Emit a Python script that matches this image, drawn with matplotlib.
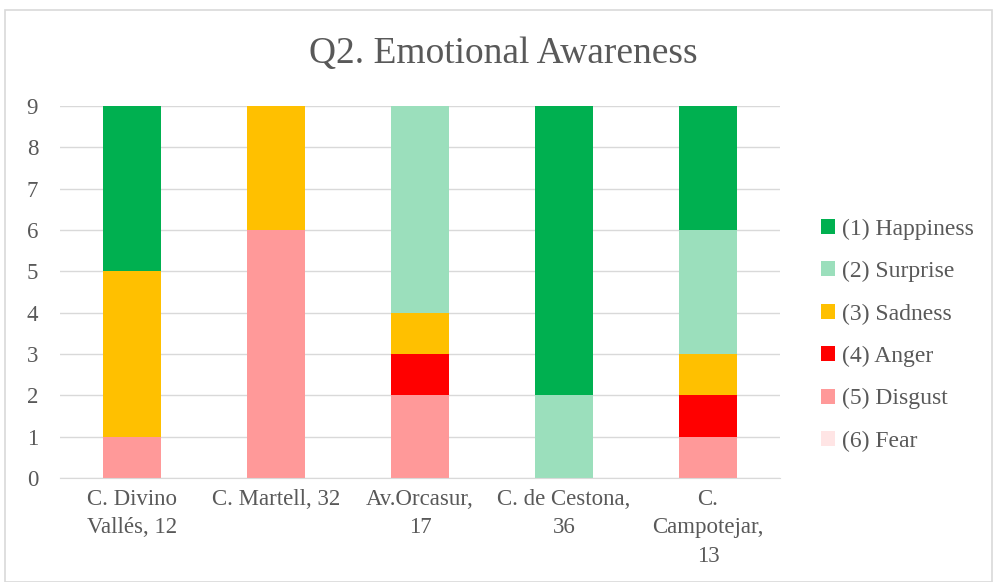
import numpy as np
import matplotlib.pyplot as plt
from matplotlib.patches import Rectangle

plt.rcParams['font.family'] = ['Liberation Serif', 'DejaVu Serif']

# Datos
categorias = ['C. Divino\nVallés, 12', 'C. Martell, 32', 'Av.Orcasur,\n17',
              'C. de Cestona,\n36', 'C.\nCampotejar,\n13']
happiness = [4, 0, 0, 7, 3]
surprise = [0, 0, 5, 2, 3]
sadness = [4, 3, 1, 0, 1]
anger = [0, 0, 1, 0, 1]
disgust = [1, 6, 2, 0, 1]
fear = [0, 0, 0, 0, 0]

series = [
    ('(5) Disgust', disgust, '#FF9999'),
    ('(4) Anger', anger, '#FF0000'),
    ('(3) Sadness', sadness, '#FFC000'),
    ('(2) Surprise', surprise, '#9BDFBC'),
    ('(1) Happiness', happiness, '#00B050'),
    ('(6) Fear', fear, '#FFE5E5'),
]
orden_leyenda = ['(1) Happiness', '(2) Surprise', '(3) Sadness',
                 '(4) Anger', '(5) Disgust', '(6) Fear']

texto = '#595959'

fig = plt.figure(figsize=(9.93, 5.82), dpi=100)
# marco del gráfico
fig.patches.append(Rectangle((0.005, 0.0), 0.994, 0.983, transform=fig.transFigure,
                             fill=False, edgecolor='#D9D9D9', linewidth=1.2))
ax = fig.add_axes([0.0604, 0.1787, 0.725, 0.639])

x = np.arange(len(categorias))
base = np.zeros(len(categorias))
handles = {}
for nombre, valores, color in series:
    b = ax.bar(x, valores, width=0.4, bottom=base, color=color, label=nombre, zorder=2)
    handles[nombre] = b
    base += np.array(valores)

ax.set_xlim(-0.5, len(categorias) - 0.5)
ax.set_ylim(0, 9)
ax.set_yticks(range(10))
ax.yaxis.grid(True, color='#D9D9D9', linewidth=1, zorder=0)
ax.set_axisbelow(True)
for s in ['top', 'right', 'left']:
    ax.spines[s].set_visible(False)
ax.spines['bottom'].set_color('#D9D9D9')
ax.tick_params(axis='both', length=0, colors=texto, labelsize=16.5)
ax.tick_params(axis='x', pad=8)
ax.tick_params(axis='y', pad=24)
ax.set_xticks(x)
ax.set_xticklabels(categorias, linespacing=1.45)
for lbl in ax.get_yticklabels():
    lbl.set_horizontalalignment('left')

fig.text(0.507, 0.907, 'Q2. Emotional Awareness', ha='center', va='center',
         fontsize=27, color=texto)

ley = fig.legend([handles[n] for n in orden_leyenda], orden_leyenda,
                 loc='center left', bbox_to_anchor=(0.805, 0.424), frameon=False,
                 fontsize=17, labelcolor=texto, handlelength=0.6, handleheight=0.6,
                 handletextpad=0.3, labelspacing=0.9)

fig.savefig('out.png', dpi=100)
